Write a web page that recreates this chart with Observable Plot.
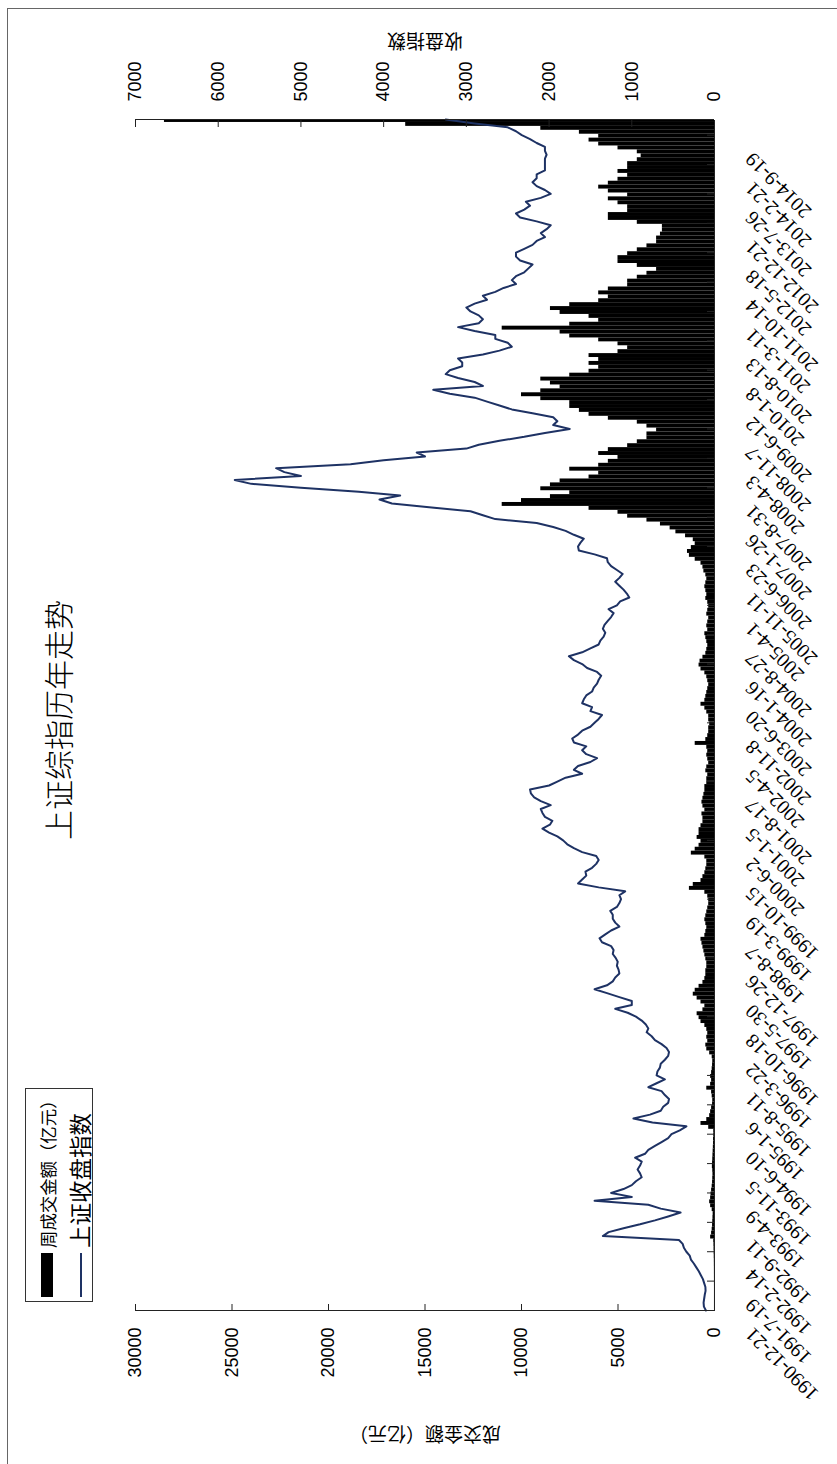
<!DOCTYPE html>
<html><head><meta charset="utf-8">
<script src="https://cdn.jsdelivr.net/npm/d3@7"></script>
<script src="https://cdn.jsdelivr.net/npm/@observablehq/plot@0.6"></script>
<style>
html,body{margin:0;padding:0;background:#fff;overflow:hidden;width:837px;height:1464px;}
#chart{position:absolute;left:0;top:0;width:1464px;height:837px;transform-origin:0 0;transform:translate(0px,1464px) rotate(-90deg);background:#fff;}
#frame{position:absolute;left:-10px;top:7px;width:1466px;height:850px;border:1px solid #666;box-sizing:border-box;}
#plot{position:absolute;left:0;top:0;}
#title{position:absolute;left:0;width:1488px;top:38px;text-align:center;font-family:"Noto Sans CJK SC Light","Noto Sans CJK SC",sans-serif;font-size:30px;line-height:38px;font-weight:300;color:#000;}
#legend{position:absolute;left:162px;top:25px;width:214px;height:68px;border:1px solid #333;box-sizing:border-box;background:#fff;font-family:"Noto Sans CJK SC",sans-serif;color:#000;}
#legend .sw1{position:absolute;left:4px;top:15px;width:44px;height:12px;background:#000;}
#legend .sw2{position:absolute;left:4px;top:54px;width:44px;height:2px;background:#1e3264;}
#legend .t1{position:absolute;left:53px;top:13px;font-size:17.4px;line-height:18px;white-space:nowrap;}
#legend .t2{position:absolute;left:53px;top:42px;font-size:22.5px;line-height:22px;white-space:nowrap;}
</style>
</head><body>
<div id="chart">
  <div id="frame"></div>
  <div id="plot"></div>
  <div id="title">上证综指历年走势</div>
  <div id="legend">
    <div class="sw1"></div><div class="t1">周成交金额（亿元）</div>
    <div class="sw2"></div><div class="t2">上证收盘指数</div>
  </div>
</div>
<script>
// Week-axis tick labels (one every 30 weekly observations)
const tickLabels = ["1990-12-21","1991-7-19","1992-2-14","1992-9-11","1993-4-9","1993-11-5","1994-6-10","1995-1-6","1995-8-11","1996-3-22","1996-10-18","1997-5-30","1997-12-26","1998-8-7","1999-3-19","1999-10-15","2000-6-2","2001-1-5","2001-8-17","2002-4-5","2002-11-8","2003-6-20","2004-1-16","2004-8-27","2005-4-1","2005-11-11","2006-6-23","2007-1-26","2007-8-31","2008-4-3","2008-11-7","2009-6-12","2010-1-8","2010-8-13","2011-3-11","2011-10-14","2012-5-18","2012-12-21","2013-7-26","2014-2-21","2014-9-19"];
const tickStep = 30;      // weeks between labelled ticks
const sampleStep = 4;     // weeks between sampled values below
const lastWeek = 1216;

// 上证收盘指数, sampled every 4 weeks (week 0 = 1990-12-21)
const closes = [
 104,128,132,125,118,108,110,125,140,165,
 190,220,250,285,300,340,370,385,430,1350,
 1280,1100,900,720,560,410,650,800,1450,1000,
 1250,1100,1000,950,880,900,930,900,880,960,
 840,800,720,640,560,520,420,340,750,980,
 780,650,620,560,550,600,640,800,700,600,
 700,690,660,650,600,560,550,580,640,720,
 760,820,800,830,880,950,1050,1200,1000,1000,
 1150,1300,1450,1300,1230,1200,1150,1160,1180,1170,
 1195,1230,1220,1250,1360,1390,1320,1250,1150,1200,
 1230,1230,1260,1180,1150,1130,1150,1080,1400,1650,
 1600,1550,1560,1480,1430,1400,1430,1600,1700,1780,
 1830,1900,2000,2080,1990,1960,2050,2080,2100,1980,
 2100,2180,2220,2230,2000,1900,1800,1600,1700,1650,
 1500,1420,1550,1600,1550,1700,1720,1650,1600,1500,
 1450,1400,1360,1500,1480,1600,1580,1550,1480,1460,
 1420,1400,1370,1420,1540,1600,1700,1760,1600,1500,
 1400,1380,1340,1320,1350,1330,1290,1250,1220,1280,
 1180,1140,1030,1060,1100,1150,1200,1150,1110,1180,
 1250,1290,1300,1450,1640,1650,1620,1580,1700,1800,
 1950,2150,2650,2800,2950,3450,3900,4050,3800,4300,
 5000,5600,5800,5000,5200,5300,4400,4000,3500,3600,
 3000,2850,2600,2300,2050,1750,1950,1900,1950,2200,
 2450,2600,2750,2900,3200,3400,2800,2900,3100,3250,
 3200,3050,3050,3100,2800,2600,2450,2500,2650,2650,
 2900,3100,2850,2800,2850,2950,3000,2900,2750,2800,
 2650,2550,2400,2450,2400,2300,2250,2200,2350,2400,
 2400,2300,2200,2150,2050,2100,2030,1980,2150,2350,
 2400,2300,2230,2280,2100,1980,2050,2150,2200,2150,
 2150,2050,2050,2050,2050,2030,2050,2050,2150,2230,
 2330,2400,2500,2900,3250
];

// 周成交金额（亿元）, sampled every 4 weeks
const turnover = [
 1,2,2,2,2,2,2,3,3,4,
 5,6,8,10,15,20,25,30,40,200,
 150,120,100,90,80,70,120,200,250,200,
 180,150,120,100,90,80,90,110,100,90,
 80,70,60,50,50,40,40,300,700,400,
 250,200,150,100,90,120,150,400,200,150,
 200,150,120,100,90,120,250,400,450,350,
 400,350,400,500,700,800,900,600,500,700,
 900,1100,1000,800,600,500,450,450,400,400,
 450,500,550,600,650,700,500,450,400,450,
 500,450,400,350,300,300,350,500,1300,1100,
 700,600,500,450,400,400,500,1200,1000,800,
 700,900,800,800,700,600,600,650,500,600,
 650,600,550,500,500,400,400,350,450,400,
 300,350,400,350,400,1000,450,350,300,300,
 250,300,300,400,500,700,500,450,400,350,
 300,350,400,500,700,800,750,600,450,400,
 350,400,450,500,350,400,350,300,400,350,
 300,350,450,400,450,500,450,400,450,550,
 600,700,1000,1300,1400,1200,1000,1100,1500,2000,
 2300,2800,3500,4500,5000,6500,11000,10000,8500,7500,
 9000,8500,8000,6500,6000,7500,6000,5500,5000,6000,
 5500,4500,4000,3500,3500,3000,3500,4000,5500,6500,
 7000,7500,7500,9000,10000,9000,8000,8500,9000,7500,
 6500,6000,6500,6000,6500,5000,4500,5000,6000,7500,
 8000,11000,7500,6000,6500,8000,8500,7500,6000,5500,
 6000,5500,4500,4500,4000,3500,3000,4000,5000,5000,
 4500,4000,3500,3000,3000,2800,2700,2700,4000,5500,
 5500,4500,4500,5000,5500,4500,5500,6000,5500,5000,
 4500,5000,4500,4500,4000,3800,4000,5000,6000,6500,
 6000,7000,9000,16000,28500
];

const leftTicks = [0,5000,10000,15000,20000,25000,30000];
const rightTicks = [0,1000,2000,3000,4000,5000,6000,7000];
const leftMax = 30000, rightMax = 7000;

const toLeft = v => v * leftMax / rightMax;
const bars = turnover.map((v, k) => ({
  x1: Math.max(0, k * sampleStep - sampleStep / 2),
  x2: Math.min(lastWeek, k * sampleStep + sampleStep / 2),
  v
}));
const line = closes.map((c, k) => ({w: k * sampleStep, y: toLeft(c)}));
const tickWeeks = tickLabels.map((_, k) => k * tickStep);

const W = 1464, H = 837, mL = 153, mR = 120, mT = 135, mB = 123;
const innerW = W - mL - mR, innerH = H - mT - mB;
const axisColor = "#222";

const chart = Plot.plot({
  width: W, height: H,
  marginLeft: mL, marginRight: mR, marginTop: mT, marginBottom: mB,
  x: {domain: [0, lastWeek], axis: null},
  y: {domain: [0, leftMax], axis: null},
  style: {fontFamily: '"Liberation Sans", Arial, sans-serif', fontSize: "18px", background: "transparent", color: "#000"},
  marks: [
    Plot.rect(bars, {x1: "x1", x2: "x2", y1: 0, y2: "v", fill: "#000"}),
    Plot.line(line, {x: "w", y: "y", stroke: "#1e3264", strokeWidth: 2, strokeLinejoin: "round"}),
    Plot.ruleX([0, lastWeek], {stroke: axisColor}),
    Plot.ruleY([0], {stroke: axisColor}),
    Plot.ruleY(leftTicks, {y: d => d, insetRight: innerW - 7, stroke: axisColor}),
    Plot.ruleY(rightTicks, {y: d => toLeft(d), insetLeft: innerW - 7, stroke: axisColor}),
    Plot.ruleX(tickWeeks, {x: d => d, insetTop: innerH - 7, stroke: axisColor}),
    Plot.axisY(leftTicks, {anchor: "left", tickSize: 0, tickPadding: 17, label: null, tickFormat: d => String(d), fontSize: 18}),
    Plot.axisY(rightTicks.map(toLeft), {anchor: "right", tickSize: 0, tickPadding: 18, label: null, tickFormat: d => String(Math.round(d * rightMax / leftMax)), fontSize: 18}),
    Plot.text(tickWeeks, {x: d => d, text: (d, i) => tickLabels[i], frameAnchor: "bottom", rotate: -45, textAnchor: "end", lineAnchor: "bottom", dx: -16, dy: 39, fontFamily: '"Liberation Serif", "Times New Roman", serif', fontSize: 20, fill: "#000"}),
    Plot.text(["成交金额（亿元）"], {frameAnchor: "left", textAnchor: "middle", dx: 30 - mL, rotate: -90, fontFamily: '"Noto Sans CJK SC", sans-serif', fontSize: 19, fill: "#000"}),
    Plot.text(["收盘指数"], {frameAnchor: "right", textAnchor: "middle", dx: 1423 - (W - mR), rotate: -90, fontFamily: '"Noto Sans CJK SC", sans-serif', fontSize: 19, fill: "#000"})
  ]
});
document.getElementById("plot").appendChild(chart);
</script>
</body></html>
